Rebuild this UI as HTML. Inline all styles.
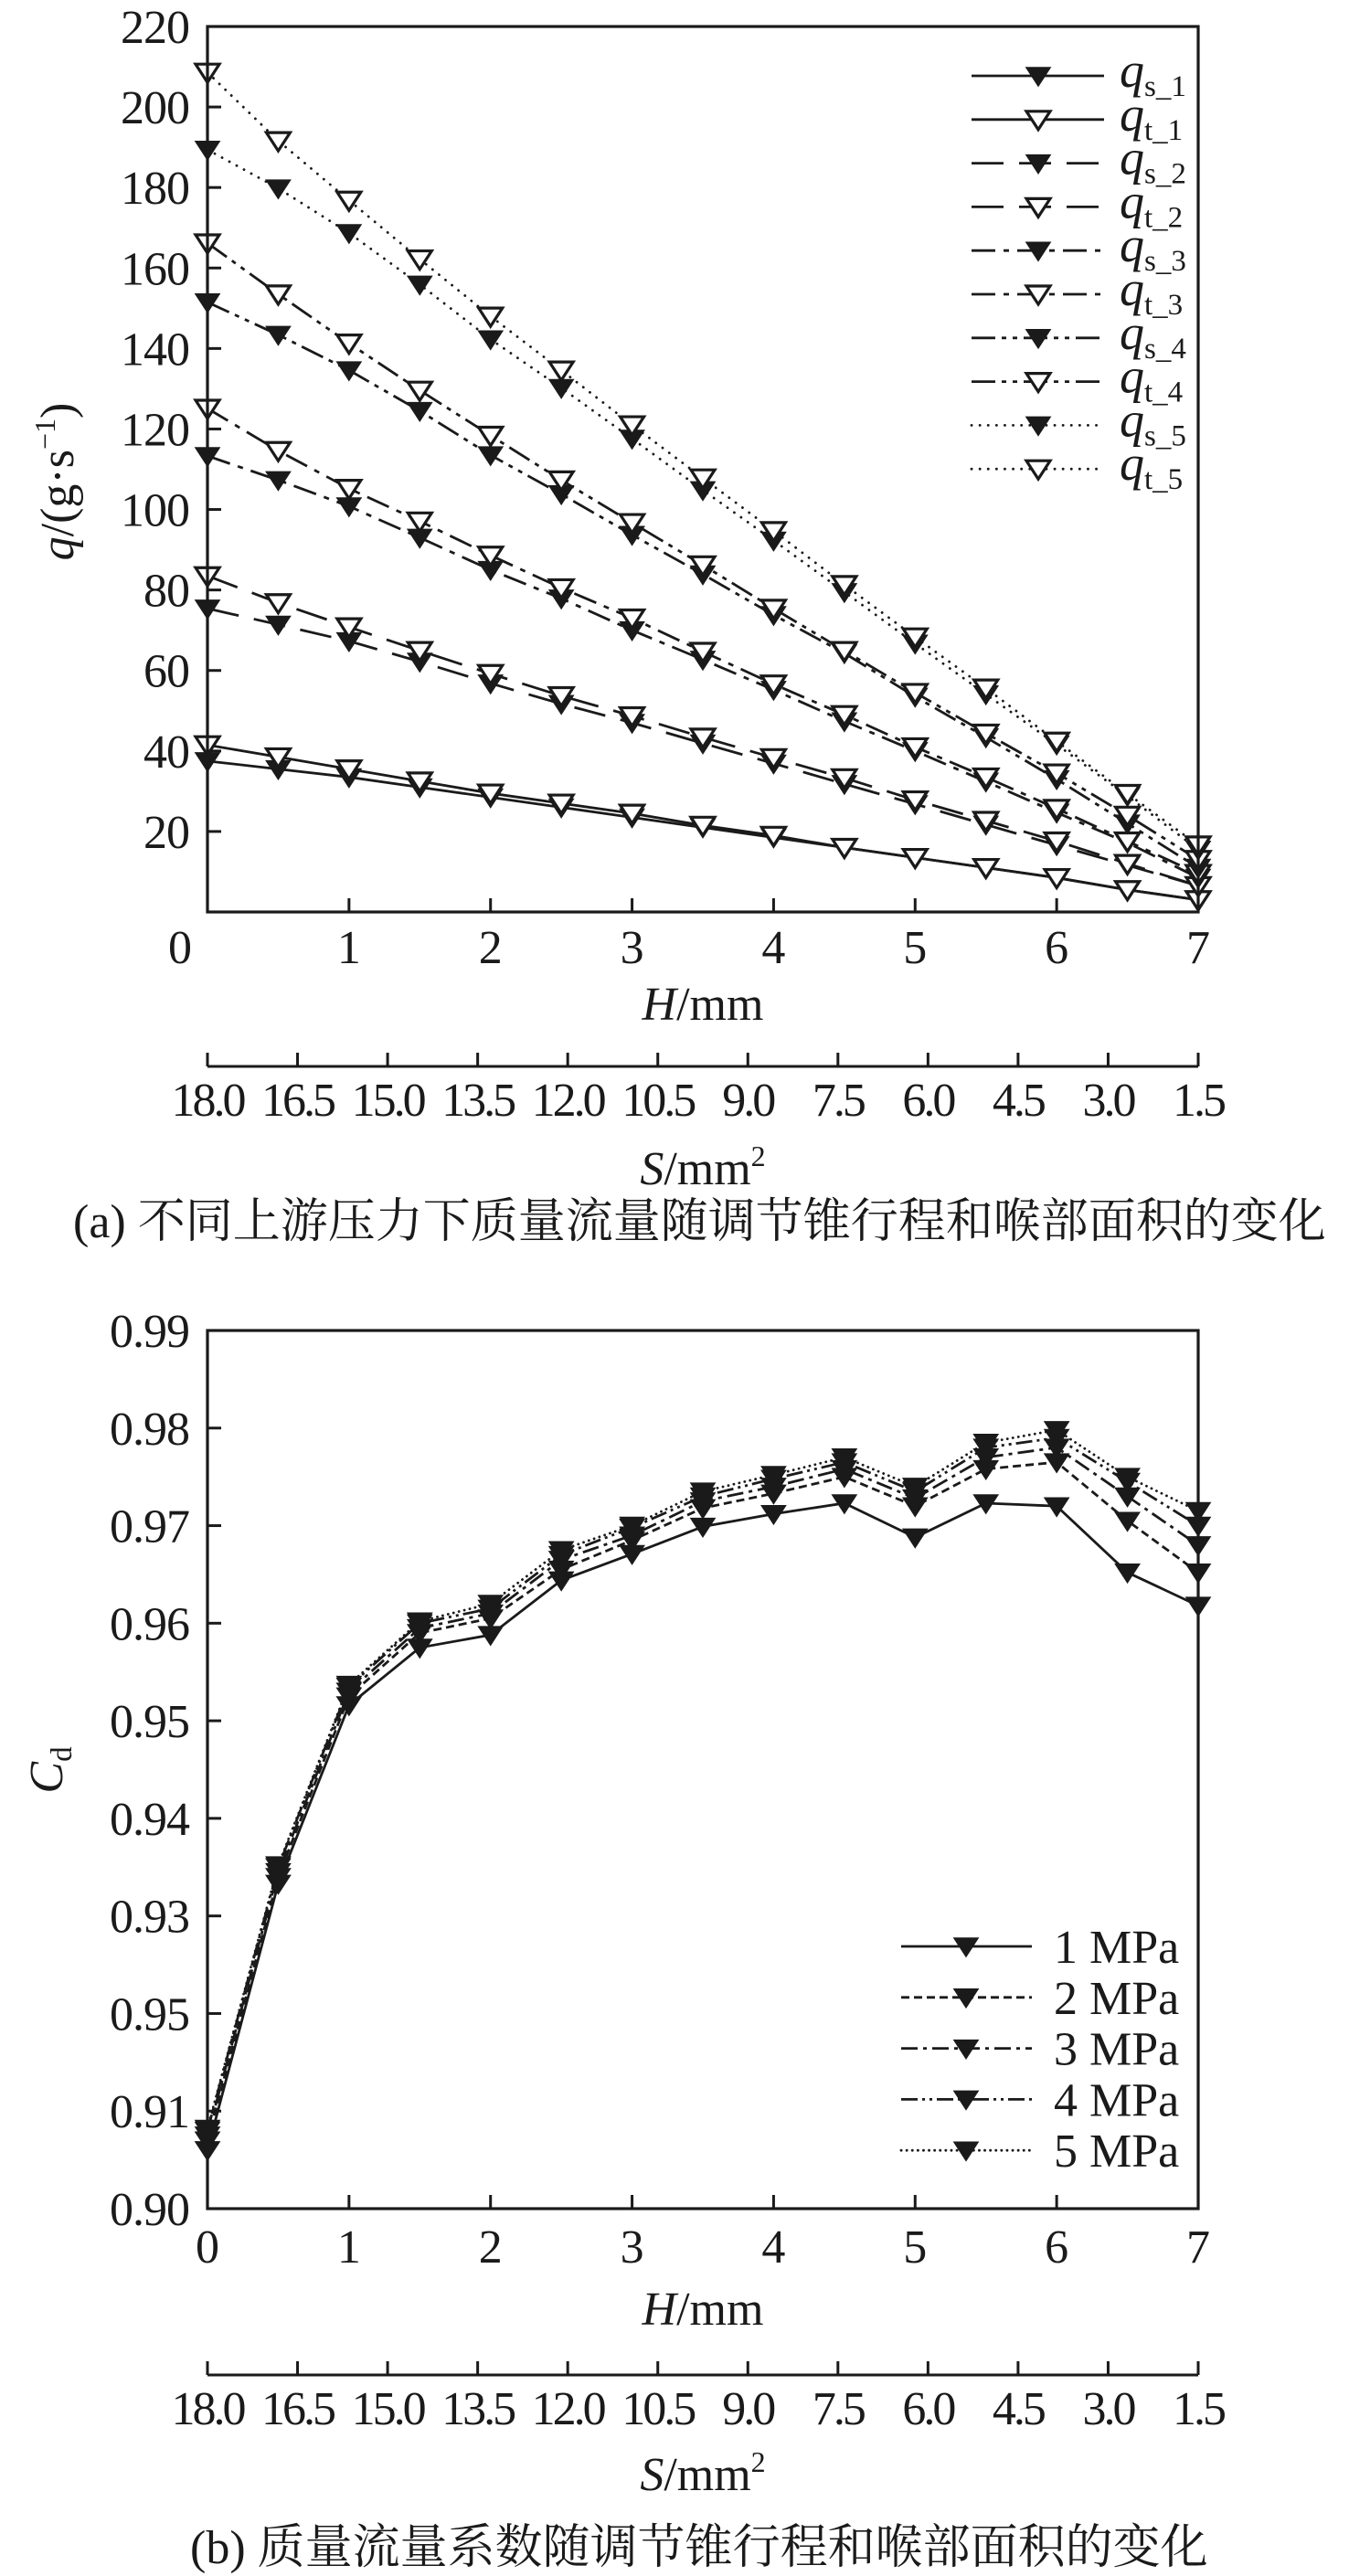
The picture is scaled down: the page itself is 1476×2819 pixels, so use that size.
<!DOCTYPE html>
<html><head><meta charset="utf-8">
<style>
html,body{margin:0;padding:0;background:#fff;}
svg{display:block;font-family:"Liberation Serif","Noto Serif CJK SC",serif;}
</style></head>
<body>
<svg id="fig" width="1476" height="2819" viewBox="0 0 1476 2819" xmlns="http://www.w3.org/2000/svg"></svg>
<script>
// ---------- data: chart (a) ----------
const hValues = [0,0.5,1,1.5,2,2.5,3,3.5,4,4.5,5,5.5,6,6.5,7];
const qs1 = [37.5,35.5,33.5,31,28.5,26,23.5,21,18.5,16,13.5,11,8.5,5.5,3];
const qt1 = [41.5,38.5,35.5,32.5,29.5,27,24.5,21.5,19,16,13.5,11,8.5,5.5,3];
const qs2 = [75.4,71.4,67.3,62.2,56.8,51.7,47,41.9,36.9,31.8,26.8,21.7,16.6,11.6,6.5];
const qt2 = [83.5,76.8,70.8,64.9,59.2,53.7,48.7,43.4,38.3,33.3,27.8,22.7,17.6,12,6.5];
const qs3 = [113.3,107.3,100.8,93,85,77.9,70,62.7,55.2,47.4,40,32.4,24.7,17.2,8.5];
const qt3 = [125.1,114.6,105.2,97.1,88.6,80.5,73,64.7,56.6,49,41,33.5,25.7,17.6,9.5];
const qs4 = [151.5,143.4,134.6,124.5,113.5,103.8,93.7,83.9,73.8,64.3,53.5,43.4,33,22,11];
const qt4 = [166.2,153.5,141.3,129.6,118.4,107.3,96.7,86.2,75.4,64.9,54.5,44.4,34.5,24,13];
const qs5 = [189.4,179.8,168.7,155.9,142.3,130.2,117.6,104.8,92.3,79.5,66.7,54.1,41.6,28.8,15.5];
const qt5 = [208.6,191.6,176.8,162.2,148,134.6,121,107.8,94.7,81.3,68.3,55.6,42.4,29.4,16.6];
const aYTicks = [20,40,60,80,100,120,140,160,180,200,220];
const hTicks = [0,1,2,3,4,5,6,7];
const sTickLabels = ["18.0","16.5","15.0","13.5","12.0","10.5","9.0","7.5","6.0","4.5","3.0","1.5"];
const aLegendSub = ["s_1","t_1","s_2","t_2","s_3","t_3","s_4","t_4","s_5","t_5"];
// ---------- data: chart (b) ----------
const cd1 = [0.9060,0.9333,0.9516,0.9575,0.9588,0.9644,0.9671,0.9699,0.9712,0.9723,0.9688,0.9723,0.9720,0.9652,0.9618];
const cd2 = [0.9070,0.9340,0.9525,0.9590,0.9605,0.9655,0.9685,0.9718,0.9733,0.9750,0.9720,0.9758,0.9765,0.9705,0.9652];
const cd3 = [0.9075,0.9345,0.9530,0.9595,0.9610,0.9665,0.9690,0.9725,0.9740,0.9758,0.9728,0.9770,0.9780,0.9730,0.9680];
const cd4 = [0.9080,0.9350,0.9535,0.9600,0.9615,0.9670,0.9698,0.9730,0.9748,0.9765,0.9735,0.9780,0.9790,0.9745,0.9700];
const cd5 = [0.9082,0.9352,0.9537,0.9602,0.9620,0.9675,0.9700,0.9735,0.9752,0.9770,0.9740,0.9785,0.9798,0.9750,0.9715];
const bYTickValues = [0.90,0.91,0.92,0.93,0.94,0.95,0.96,0.97,0.98,0.99];
const bYTickLabels = ["0.90","0.91","0.95","0.93","0.94","0.95","0.96","0.97","0.98","0.99"];
const bLegendLabels = ["1 MPa","2 MPa","3 MPa","4 MPa","5 MPa"];

const NS = "http://www.w3.org/2000/svg";
const svg = document.getElementById('fig');
const FS = 52;
function mk(tag, attrs, parent, text){
  const e = document.createElementNS(NS, tag);
  for (const k in attrs) e.setAttribute(k, attrs[k]);
  if (text !== undefined) e.textContent = text;
  (parent||svg).appendChild(e);
  return e;
}
function tri(g, cx, cy, filled){
  const w=13, h=20;
  const p = mk('polygon', {points:(cx-w)+','+(cy-h*0.45)+' '+(cx+w)+','+(cy-h*0.45)+' '+cx+','+(cy+h*0.55),
    fill: filled?'#1a1a1a':'#fff', stroke:'#1a1a1a', 'stroke-width': filled?1.5:3.2, 'stroke-linejoin':'miter'}, g);
  
  
  return p;
}
function drawPanel(cfg){
  const L=227, R=1311, T=cfg.top, B=cfg.bottom;
  const xS = v => L + (v-0)/(7-0)*(R-L);
  const yS = v => B - (v-cfg.ymin)/(cfg.ymax-cfg.ymin)*(B-T);
  const g = mk('g', {});  
  cfg.series.forEach(s=>{
    const sg = mk('g', {}, g);
    
    
    const pts = hValues.map((h,i)=>xS(h)+','+yS(s.data[i])).join(' ');
    const pl = mk('polyline', {points:pts, fill:'none', stroke:'#1a1a1a', 'stroke-width':2.8, 'stroke-dasharray':s.dash, 'stroke-linecap':s.cap||'butt'}, sg);
    
    
    hValues.forEach((h,i)=>tri(sg, xS(h), yS(s.data[i]), s.filled));
  });
  const fr = mk('rect', {x:L, y:T, width:R-L, height:B-T, fill:'none', stroke:'#1a1a1a', 'stroke-width':3.2}, g);
   
  const yg = mk('g', {}, g);  
  cfg.yTickValues.forEach((v,i)=>{
    const y = yS(v);
    if (Math.abs(y-T)>2 && Math.abs(y-B)>2) mk('line',{x1:L,x2:L+15,y1:y,y2:y,stroke:'#1a1a1a','stroke-width':3}, yg);
    const t = mk('text',{x:207,y:y+18,'font-size':FS,'text-anchor':'end',fill:'#1a1a1a','letter-spacing':'-1'}, yg, cfg.yTickLabels[i]);
     
  });
  const xg = mk('g', {}, g);  
  hTicks.forEach(v=>{
    const x = xS(v);
    if (v>0 && v<7) mk('line',{x1:x,x2:x,y1:B,y2:B-15,stroke:'#1a1a1a','stroke-width':3}, xg);
    const t = mk('text',{x: v===0 && cfg.zeroShift ? x-30 : x, y:cfg.xLabelY,'font-size':FS,'text-anchor':'middle',fill:'#1a1a1a'}, xg, String(v));
     
  });
  const ht = mk('text',{x:(L+R)/2,y:cfg.hTitleY,'font-size':FS,'text-anchor':'middle',fill:'#1a1a1a'}, g);
   
  mk('tspan',{'font-style':'italic'},ht,'H'); mk('tspan',{},ht,'/mm');
  const sg2 = mk('g', {}, g);  
  const sY = cfg.sAxisY;
  mk('line',{x1:L,x2:R,y1:sY,y2:sY,stroke:'#1a1a1a','stroke-width':3}, sg2);
  sTickLabels.forEach((lab,i)=>{
    const x = L + i*(R-L)/(sTickLabels.length-1);
    mk('line',{x1:x,x2:x,y1:sY,y2:sY-15,stroke:'#1a1a1a','stroke-width':3}, sg2);
    const t = mk('text',{x:x,y:sY+54,'font-size':FS,'text-anchor':'middle',fill:'#1a1a1a','letter-spacing':'-3'}, sg2, lab);
     
  });
  const st = mk('text',{x:(L+R)/2,y:cfg.sTitleY,'font-size':FS,'text-anchor':'middle',fill:'#1a1a1a'}, g);
   
  mk('tspan',{'font-style':'italic'},st,'S'); mk('tspan',{},st,'/mm'); mk('tspan',{'font-size':32,dy:-20},st,'2');
  const cp = mk('text',{x:cfg.captionX,y:cfg.captionY,'font-size':52,fill:'#1a1a1a'}, g, cfg.caption);
   
  return {g,xS,yS};
}

const aSeries = [
 {name:'qs1',data:qs1,filled:true,dash:'none'},
 {name:'qt1',data:qt1,filled:false,dash:'none'},
 {name:'qs2',data:qs2,filled:true,dash:'35 17'},
 {name:'qt2',data:qt2,filled:false,dash:'35 17'},
 {name:'qs3',data:qs3,filled:true,dash:'26 9 6 9'},
 {name:'qt3',data:qt3,filled:false,dash:'26 9 6 9'},
 {name:'qs4',data:qs4,filled:true,dash:'26 7 5 7 5 7'},
 {name:'qt4',data:qt4,filled:false,dash:'26 7 5 7 5 7'},
 {name:'qs5',data:qs5,filled:true,dash:'0.1 9',cap:'round'},
 {name:'qt5',data:qt5,filled:false,dash:'0.1 9',cap:'round'}
];
drawPanel({name:'chart-a',top:29,bottom:998,ymin:0,ymax:220,
  yTickValues:aYTicks, yTickLabels:aYTicks.map(String), series:aSeries, zeroShift:true,
  xLabelY:1054,hTitleY:1116,sAxisY:1167,sTitleY:1296,
  caption:'(a) 不同上游压力下质量流量随调节锥行程和喉部面积的变化', captionX:80, captionY:1354});
const yta = mk('text',{x:0,y:0,'font-size':FS,'text-anchor':'middle',fill:'#1a1a1a',transform:'translate(80,527) rotate(-90)'});
 
mk('tspan',{'font-style':'italic'},yta,'q'); mk('tspan',{},yta,'/(g·s'); mk('tspan',{'font-size':32,dy:-20},yta,'−1'); mk('tspan',{dy:20},yta,')');
const lga = mk('g',{});  
aSeries.forEach((s,i)=>{
  const y = 83 + i*47.8;
  const eg = mk('g',{},lga);  
  mk('line',{x1:1063,x2:1208,y1:y,y2:y,stroke:'#1a1a1a','stroke-width':2.8,'stroke-dasharray':s.dash,'stroke-linecap':s.cap||'butt'},eg);
  tri(eg,1136,y,s.filled);
  const t = mk('text',{x:1225,y:y+12,'font-size':54,fill:'#1a1a1a'},eg);
  mk('tspan',{'font-style':'italic'},t,'q'); mk('tspan',{'font-size':33,dy:10},t,aLegendSub[i]);
});

const bSeries = [
 {name:'cd-1mpa',data:cd1,filled:true,dash:'none'},
 {name:'cd-2mpa',data:cd2,filled:true,dash:'9 5'},
 {name:'cd-3mpa',data:cd3,filled:true,dash:'18 6 4 6'},
 {name:'cd-4mpa',data:cd4,filled:true,dash:'18 5 3 5 3 5'},
 {name:'cd-5mpa',data:cd5,filled:true,dash:'0.1 6',cap:'round'}
];
drawPanel({name:'chart-b',top:1456,bottom:2417,ymin:0.90,ymax:0.99,
  yTickValues:bYTickValues, yTickLabels:bYTickLabels, series:bSeries, zeroShift:false,
  xLabelY:2476,hTitleY:2544,sAxisY:2599,sTitleY:2725,
  caption:'(b) 质量流量系数随调节锥行程和喉部面积的变化', captionX:208, captionY:2805});
const ytb = mk('text',{x:0,y:0,'font-size':FS,'text-anchor':'middle',fill:'#1a1a1a',transform:'translate(68,1937) rotate(-90)'});
 
mk('tspan',{'font-style':'italic'},ytb,'C'); mk('tspan',{'font-size':33,dy:10},ytb,'d');
const lgb = mk('g',{});  
bSeries.forEach((s,i)=>{
  const y = 2130 + i*55.8;
  const eg = mk('g',{},lgb);  
  mk('line',{x1:986,x2:1129,y1:y,y2:y,stroke:'#1a1a1a','stroke-width':2.8,'stroke-dasharray':s.dash,'stroke-linecap':s.cap||'butt'},eg);
  tri(eg,1057,y,true);
  mk('text',{x:1153,y:y+18,'font-size':FS,fill:'#1a1a1a'},eg,bLegendLabels[i]);
});
</script>
</body></html>
